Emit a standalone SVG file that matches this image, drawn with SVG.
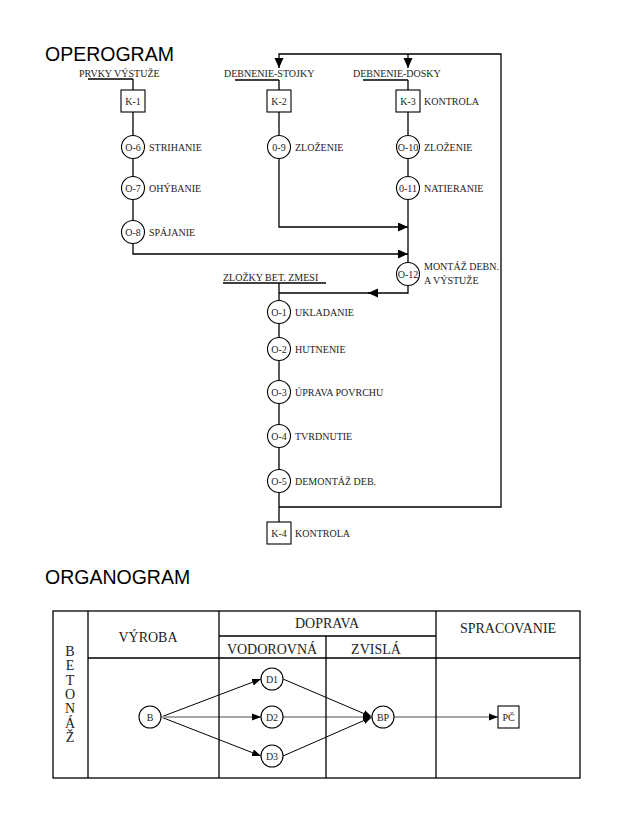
<svg xmlns="http://www.w3.org/2000/svg" width="623" height="832" viewBox="0 0 623 832">
<defs>
<style>
.t{font-family:"Liberation Serif","Times New Roman",serif;font-size:10px;fill:#222}
.c{text-anchor:middle}
.h{font-family:"Liberation Sans",Arial,sans-serif;font-size:19.5px;fill:#000}
.tb{font-family:"Liberation Serif","Times New Roman",serif;font-size:14px;fill:#222;text-anchor:middle}
.n{fill:#fff;stroke:#000;stroke-width:1.1}
.l{fill:none;stroke:#000;stroke-width:1.3}
.d{fill:none;stroke:#000;stroke-width:1}
.g{fill:none;stroke:#a6a6a6;stroke-width:2}
</style>
<marker id="a" markerUnits="userSpaceOnUse" markerWidth="12" markerHeight="10" refX="10" refY="4.5" orient="auto"><path d="M0,0 L10,4.5 L0,9 Z" fill="#000"/></marker>
<marker id="s" markerUnits="userSpaceOnUse" markerWidth="10" markerHeight="8" refX="9" refY="3.5" orient="auto"><path d="M0,0 L9,3.5 L0,7 Z" fill="#000"/></marker>
</defs>
<rect width="623" height="832" fill="#fff"/>
<text class="h" x="45" y="61">OPEROGRAM</text>
<text class="h" x="45" y="584">ORGANOGRAM</text>

<g id="connectors">
<path class="l" d="M88,79 H133 M235,80 H279 M363,80 H408 M223,283 H326"/>
<path class="l" d="M133,79 V90 M133,112 V135.5 M133,158.5 V176.5 M133,199.5 V220.5"/>
<path class="l" d="M133,243.5 V254 H408" marker-end="url(#a)"/>
<path class="l" d="M279,80 V90 M279,112 V135.5"/>
<path class="l" d="M279,158.5 V227 H408" marker-end="url(#a)"/>
<path class="l" d="M408,80 V90 M408,112 V135.5 M408,158.5 V176.5 M408,199.5 V262.5"/>
<path class="l" d="M408,285.5 V293 H368" marker-end="url(#a)"/>
<path class="l" d="M370,293 H279"/>
<path class="l" d="M279,283 V300.5 M279,323.5 V337.5 M279,360.5 V380.5 M279,403.5 V424.5 M279,447.5 V469.5 M279,492.5 V522"/>
<path class="l" d="M279,507 H501 V54 H279 V68" marker-end="url(#a)"/>
<path class="l" d="M408,54 V68" marker-end="url(#a)"/>
<path class="d" d="M161,717 L261,679" marker-end="url(#s)"/>
<path class="d" d="M161,717 L261,756" marker-end="url(#s)"/>
<path class="g" d="M161,717 H261"/>
<path fill="#000" d="M261,717 L252,713.5 L252,720.5 Z"/>
<path class="d" d="M283,679 L372,717" marker-end="url(#s)"/>
<path class="d" d="M283,756 L372,717" marker-end="url(#s)"/>
<path class="g" d="M283,717 H372"/>
<path fill="#000" d="M372,717 L363,713.5 L363,720.5 Z"/>
<path class="g" d="M394,717 H498"/>
<path fill="#000" d="M498,717 L489,713.5 L489,720.5 Z"/>
</g>

<g id="labels">
<text class="t" x="79" y="77">PRVKY VÝSTUŽE</text>
<text class="t" x="224" y="77">DEBNENIE-STOJKY</text>
<text class="t" x="353" y="77">DEBNENIE-DOSKY</text>
<text class="t" x="223" y="281">ZLOŽKY BET. ZMESI</text>
</g>

<g id="K-1"><rect class="n" x="121" y="90" width="24" height="22"/><text class="t c" x="133" y="104.5">K-1</text></g>
<g id="O-6"><circle class="n" cx="133" cy="147" r="11.5"/><text class="t c" x="133" y="150.5">O-6</text><text class="t" x="149" y="150.5">STRIHANIE</text></g>
<g id="O-7"><circle class="n" cx="133" cy="188" r="11.5"/><text class="t c" x="133" y="191.5">O-7</text><text class="t" x="149" y="191.5">OHÝBANIE</text></g>
<g id="O-8"><circle class="n" cx="133" cy="232" r="11.5"/><text class="t c" x="133" y="235.5">O-8</text><text class="t" x="149" y="235.5">SPÁJANIE</text></g>

<g id="K-2"><rect class="n" x="267" y="90" width="24" height="22"/><text class="t c" x="279" y="104.5">K-2</text></g>
<g id="O-9"><circle class="n" cx="279" cy="147" r="11.5"/><text class="t c" x="279" y="150.5">0-9</text><text class="t" x="295" y="150.5">ZLOŽENIE</text></g>

<g id="K-3"><rect class="n" x="396" y="90" width="24" height="22"/><text class="t c" x="408" y="104.5">K-3</text><text class="t" x="424" y="104.5">KONTROLA</text></g>
<g id="O-10"><circle class="n" cx="408" cy="147" r="11.5"/><text class="t c" x="408" y="150.5">O-10</text><text class="t" x="424" y="150.5">ZLOŽENIE</text></g>
<g id="O-11"><circle class="n" cx="408" cy="188" r="11.5"/><text class="t c" x="408" y="191.5">0-11</text><text class="t" x="424" y="191.5">NATIERANIE</text></g>
<g id="O-12"><circle class="n" cx="408" cy="274" r="11.5"/><text class="t c" x="408" y="277.5">O-12</text><text class="t" x="424" y="270">MONTÁŽ DEBN.</text><text class="t" x="424" y="284">A VÝSTUŽE</text></g>

<g id="O-1"><circle class="n" cx="279" cy="312" r="11.5"/><text class="t c" x="279" y="315.5">O-1</text><text class="t" x="295" y="315.5">UKLADANIE</text></g>
<g id="O-2"><circle class="n" cx="279" cy="349" r="11.5"/><text class="t c" x="279" y="352.5">O-2</text><text class="t" x="295" y="352.5">HUTNENIE</text></g>
<g id="O-3"><circle class="n" cx="279" cy="392" r="11.5"/><text class="t c" x="279" y="395.5">O-3</text><text class="t" x="295" y="395.5">ÚPRAVA POVRCHU</text></g>
<g id="O-4"><circle class="n" cx="279" cy="436" r="11.5"/><text class="t c" x="279" y="439.5">O-4</text><text class="t" x="295" y="439.5">TVRDNUTIE</text></g>
<g id="O-5"><circle class="n" cx="279" cy="481" r="11.5"/><text class="t c" x="279" y="484.5">O-5</text><text class="t" x="295" y="484.5">DEMONTÁŽ DEB.</text></g>
<g id="K-4"><rect class="n" x="267" y="522" width="24" height="22"/><text class="t c" x="279" y="536.5">K-4</text><text class="t" x="295" y="536.5">KONTROLA</text></g>

<g id="table">
<rect class="l" x="53" y="611" width="527" height="167"/>
<path class="l" d="M88,611 V778 M219,611 V778 M436,611 V778 M326,636 V778 M219,636 H436 M88,658 H580"/>
<text class="tb" x="148" y="642">VÝROBA</text>
<text class="tb" x="327" y="628">DOPRAVA</text>
<text class="tb" x="272" y="654">VODOROVNÁ</text>
<text class="tb" x="376" y="654">ZVISLÁ</text>
<text class="tb" x="508" y="633">SPRACOVANIE</text>
<g font-family="Liberation Serif, Times New Roman, serif" font-size="14" fill="#222" text-anchor="middle">
<text x="70" y="656">B</text>
<text x="70" y="670.3">E</text>
<text x="70" y="684.6">T</text>
<text x="70" y="698.9">O</text>
<text x="70" y="713.2">N</text>
<text x="70" y="727.5">Á</text>
<text x="70" y="741.8">Ž</text>
</g>
</g>

<g id="B"><circle class="n" cx="150" cy="717" r="11"/><text class="t c" x="150" y="720.5">B</text></g>
<g id="D1"><circle class="n" cx="272" cy="679" r="11"/><text class="t c" x="272" y="682.5">D1</text></g>
<g id="D2"><circle class="n" cx="272" cy="717" r="11"/><text class="t c" x="272" y="720.5">D2</text></g>
<g id="D3"><circle class="n" cx="272" cy="756" r="11"/><text class="t c" x="272" y="759.5">D3</text></g>
<g id="BP"><circle class="n" cx="383" cy="717" r="11"/><text class="t c" x="383" y="720.5">BP</text></g>
<g id="PC"><rect class="n" x="498" y="706" width="21" height="22"/><text class="t c" x="508.5" y="720.5">PČ</text></g>
</svg>
